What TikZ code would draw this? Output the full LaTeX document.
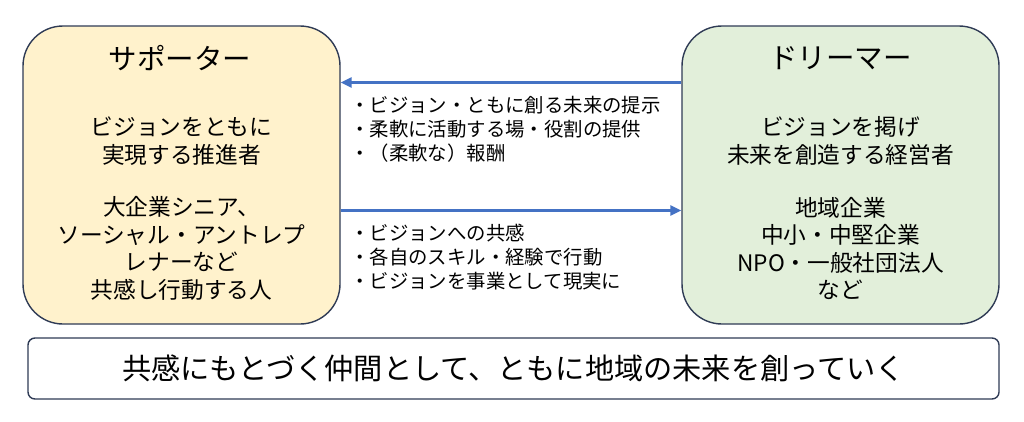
\documentclass[tikz,border=0pt]{standalone}
\usepackage{fontspec}
\setmainfont{Noto Sans CJK JP}
\usetikzlibrary{arrows.meta}
\definecolor{navy}{HTML}{2F3B55}
\definecolor{supfill}{HTML}{FFF2CC}
\definecolor{drefill}{HTML}{E2EFDA}
\definecolor{arrblue}{HTML}{4472C4}
\tikzset{
  bigbox/.style={draw=navy, line width=1.4pt, rounded corners=40pt, minimum width=317pt, minimum height=298pt, inner sep=0pt},
  titletext/.style={font=\fontsize{28.5}{34}\selectfont, text=black, inner sep=0pt},
  bodytext/.style={font=\fontsize{22.7}{27.5}\selectfont, align=center, text=black, inner sep=0pt},
  midtext/.style={font=\fontsize{19.4}{24}\selectfont, align=left, text=black, inner sep=0pt, anchor=west},
  arr/.style={draw=arrblue, line width=2.8pt, -{Triangle[length=11pt,width=10pt]}},
  msgbox/.style={draw=navy, line width=1.4pt, rounded corners=7pt, fill=white, minimum width=971pt, minimum height=61pt, inner sep=0pt, font=\fontsize{29.2}{34}\selectfont}
}
\begin{document}
\begin{tikzpicture}[x=1pt, y=-1pt]
\useasboundingbox[fill=white] (0,0) rectangle (1024,421);
\node[bigbox, fill=supfill] (sup) at (181.5,175) {};
\node[bigbox, fill=drefill] (dre) at (840.5,175) {};
\node[titletext] (supt) at (180,58) {サポーター};
\node[titletext] (dret) at (840.5,58) {ドリーマー};
\node[bodytext] (supb1) at (181.5,141) {ビジョンをともに\\実現する推進者};
\node[bodytext] (supb2) at (181.5,248.5) {大企業シニア、\\ソーシャル・アントレプ\\レナーなど\\共感し行動する人};
\node[bodytext] (dreb1) at (840.5,141) {ビジョンを掲げ\\未来を創造する経営者};
\node[bodytext] (dreb2) at (840.5,248.5) {地域企業\\中小・中堅企業\\NPO・一般社団法人\\など};
\coordinate (ya) at (0,82.5);
\coordinate (yb) at (0,210.5);
\draw[arr] (dre.west |- ya) -- (sup.east |- ya);
\draw[arr] (sup.east |- yb) -- (dre.west |- yb);
\node[midtext] (m1) at (350,129) {・ビジョン・ともに創る未来の提示\\・柔軟に活動する場・役割の提供\\・（柔軟な）報酬};
\node[midtext] (m2) at (350,257) {・ビジョンへの共感\\・各自のスキル・経験で行動\\・ビジョンを事業として現実に};
\node[msgbox] (msg) at (513.5,368.5) {共感にもとづく仲間として、ともに地域の未来を創っていく};
\end{tikzpicture}
\end{document}
